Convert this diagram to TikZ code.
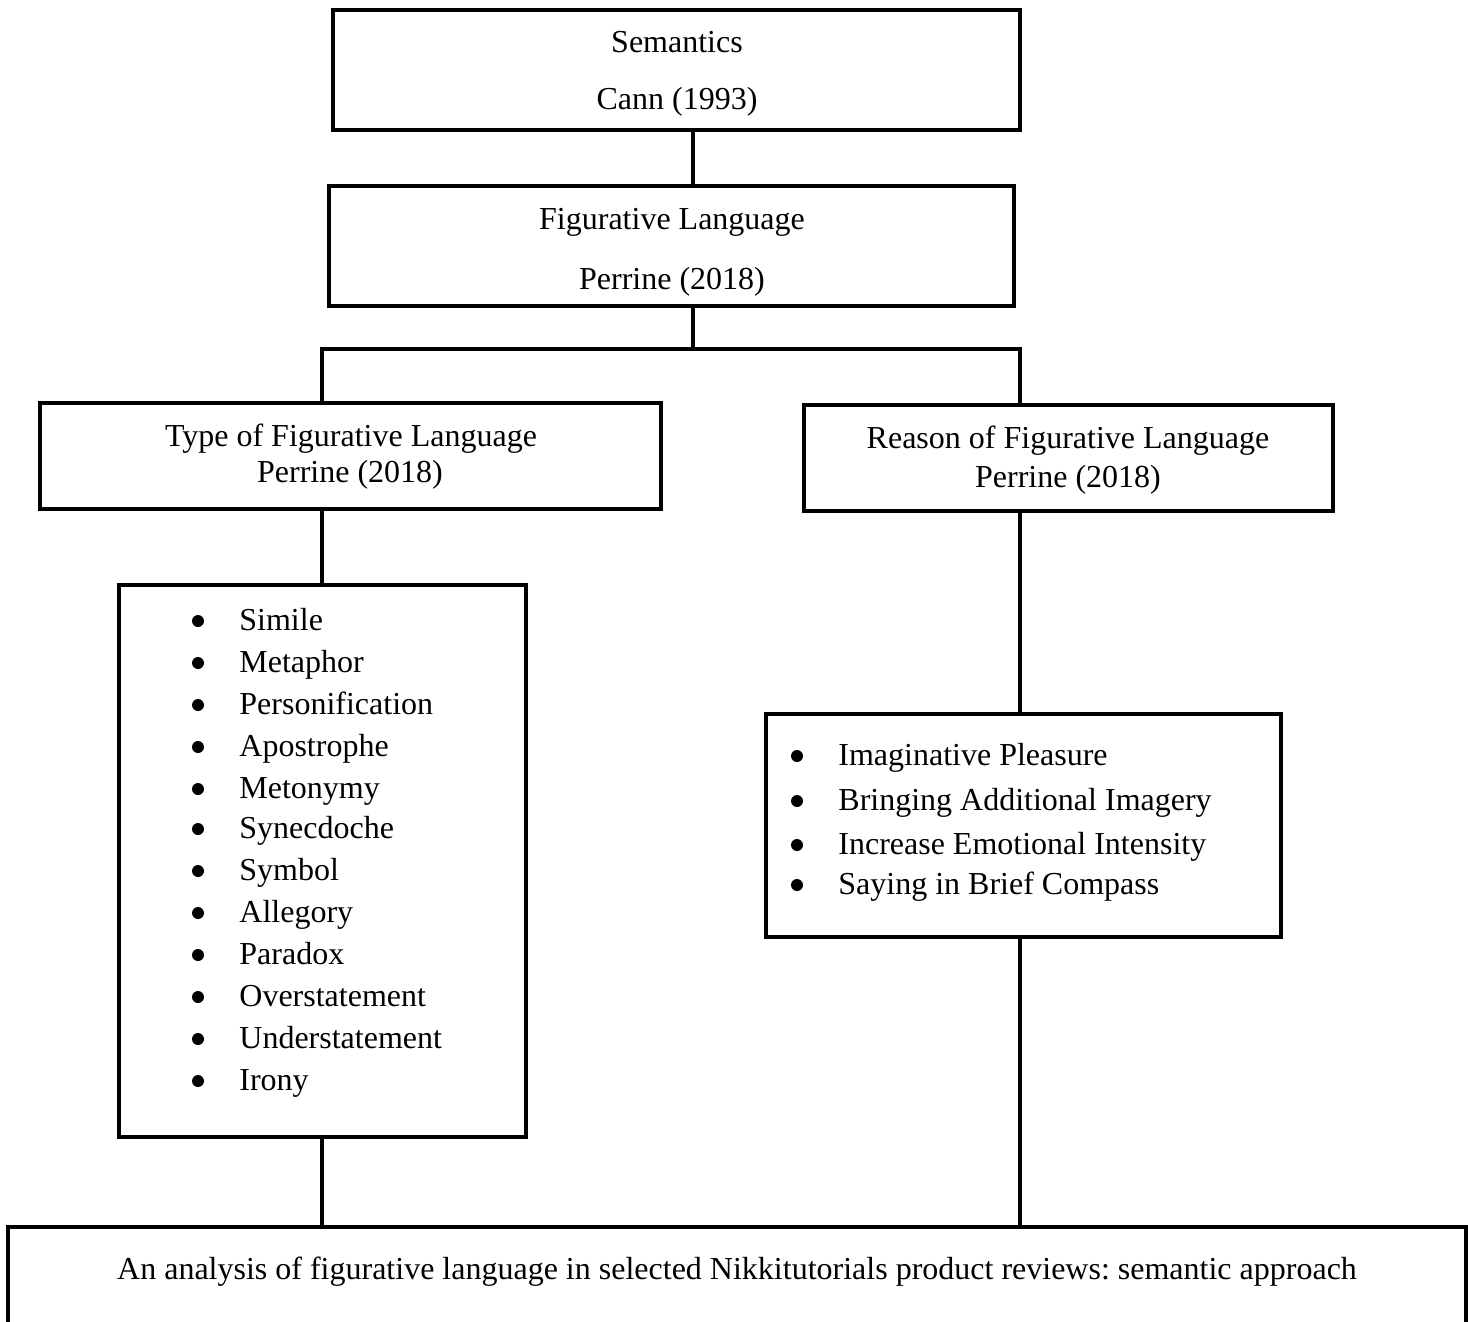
\documentclass[tikz,border=0pt]{standalone}
\usepackage{fontspec}
\setmainfont{Liberation Serif}
\frenchspacing
\begin{document}
\begin{tikzpicture}[x=0.5pt,y=-0.5pt,
  box/.style={draw,line width=2.2pt,rectangle,inner sep=0pt},
  txt/.style={inner sep=0pt,anchor=base,font=\fontsize{16pt}{19pt}\selectfont},
  itm/.style={inner sep=0pt,anchor=base west,font=\fontsize{16pt}{19pt}\selectfont},
  bul/.style={circle,fill=black,inner sep=0pt,minimum size=6pt},
  conn/.style={line width=2.2pt}]
\useasboundingbox (0,0) rectangle (1468,1322);
% boxes
\node[box,minimum width=343.5pt,minimum height=60pt] (sem) at (676.5,70) {};
\node[box,minimum width=342.5pt,minimum height=60pt] (fig) at (671.5,246) {};
\node[box,minimum width=310.5pt,minimum height=53pt] (typ) at (350.5,456) {};
\node[box,minimum width=264.5pt,minimum height=53pt] (rea) at (1068.5,458) {};
\node[box,minimum width=203.5pt,minimum height=276pt] (lst) at (322.5,861) {};
\node[box,minimum width=257.5pt,minimum height=111.5pt] (rls) at (1023.5,825.5) {};
\node[box,minimum width=729pt,minimum height=60pt] (fin) at (737,1287) {};
% texts
\node[txt] (t1) at (677,53) {Semantics};
\node[txt] (t2) at (677,110) {Cann (1993)};
\node[txt] (t3) at (672,229) {Figurative Language};
\node[txt] (t4) at (672,289) {Perrine (2018)};
\node[txt] (t5) at (351,446) {Type of Figurative Language};
\node[txt] (t6) at (350,482) {Perrine (2018)};
\node[txt] (t7) at (1068,448) {Reason of Figurative Language};
\node[txt] (t8) at (1068,487) {Perrine (2018)};
\node[txt] (t9) at (737,1279) {An analysis of figurative language in selected Nikkitutorials product reviews: semantic approach};
% list 1
\foreach \n/\y/\s in {a/620/Simile,b/662/Metaphor,c/704/Personification,d/746/Apostrophe,e/788/Metonymy,f/828/Synecdoche,g/870/Symbol,h/912/Allegory,i/954/Paradox,j/996/Overstatement,k/1038/Understatement,l/1080/Irony}{
  \node[bul] (b\n) at (198,\y+1) {};
  \node[itm] (i\n) at (239,\y+10) {\s};
}
% list 2
\foreach \n/\y/\s in {a/755/Imaginative Pleasure,b/800/Bringing Additional Imagery,c/844/Increase Emotional Intensity,d/884/Saying in Brief Compass}{
  \node[bul] (r\n) at (797,\y+1) {};
  \node[itm] (q\n) at (838,\y+10) {\s};
}
% connectors
\coordinate (j1) at (693,349);
\coordinate (jl) at (322,349);
\coordinate (jr) at (1020,349);
\draw[conn] (sem.south -| j1) -- (fig.north -| j1);
\draw[conn] (fig.south -| j1) -- (j1);
\draw[conn,line cap=rect] (jl) -- (jr);
\draw[conn] (jl) -- (typ.north -| jl);
\draw[conn] (jr) -- (rea.north -| jr);
\draw[conn] (typ.south -| jl) -- (lst.north -| jl);
\draw[conn] (rea.south -| jr) -- (rls.north -| jr);
\draw[conn] (lst.south -| jl) -- (fin.north -| jl);
\draw[conn] (rls.south -| jr) -- (fin.north -| jr);
\end{tikzpicture}
\end{document}
